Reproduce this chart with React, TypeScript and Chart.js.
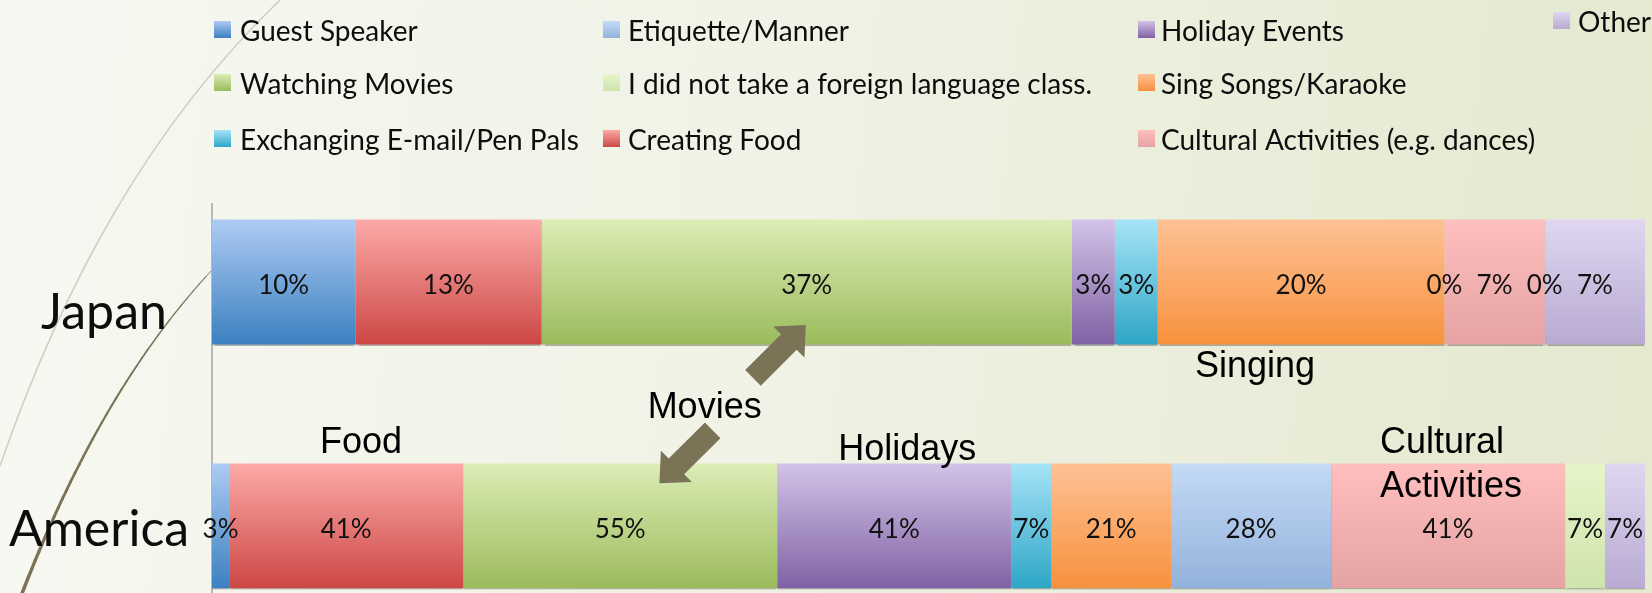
import React, { useEffect, useRef } from 'react';
import { Chart, registerables } from 'chart.js';

Chart.register(...registerables);

// ---------- data ----------
const categories = ['Japan', 'America'];

const seriesNames = [
  'Guest Speaker',
  'Creating Food',
  'Watching Movies',
  'Holiday Events',
  'Exchanging E-mail/Pen Pals',
  'Sing Songs/Karaoke',
  'Etiquette/Manner',
  'Cultural Activities (e.g. dances)',
  'I did not take a foreign language class.',
  'Other',
];

const japanValues = [10, 13, 37, 3, 3, 20, 0, 7, 0, 7];
const americaValues = [3, 41, 55, 41, 7, 21, 28, 41, 7, 7];

// legend reading order (column by column, as in the original)
const legendOrder = [
  'Guest Speaker',
  'Watching Movies',
  'Exchanging E-mail/Pen Pals',
  'Etiquette/Manner',
  'I did not take a foreign language class.',
  'Creating Food',
  'Holiday Events',
  'Sing Songs/Karaoke',
  'Cultural Activities (e.g. dances)',
  'Other',
];

// ---------- styles ----------
const seriesTopColors = [
  '#aecbf3', '#fcaaa8', '#dcedb6', '#d2c3e8', '#a6e4f7',
  '#fec195', '#c4daf6', '#ffbfbe', '#e5f5c9', '#e0d6f0',
];
const seriesBottomColors = [
  '#3b80c0', '#cc4744', '#9bbb5c', '#8062a4', '#2ea6c6',
  '#f7913d', '#93b2db', '#e5a3a3', '#cfe3ac', '#b8aad2',
];

const BAR_FRACTION = 0.512;
const LEGEND_FONT = '28px Lato, "Open Sans", sans-serif';
const LABEL_FONT = '26px Lato, "Open Sans", sans-serif';
const CATEGORY_FONT = '50px Lato, "Open Sans", sans-serif';
const NOTE_FONT = '36px "Liberation Sans", Arial, sans-serif';

// legend slots: [box x, text x, baseline y]
const legendSlots: [number, number, number][] = [
  [214, 240, 41], [214, 240, 94], [214, 240, 150],
  [603, 628, 41], [603, 628, 94], [603, 628, 150],
  [1138, 1161, 41], [1138, 1161, 94], [1138, 1161, 150],
  [1553, 1578, 32],
];

// category labels: [center x px, baseline offset from bar center]
const categoryLabelPos: [number, number][] = [
  [104, 47],
  [99, 20],
];

// text notes placed in value space (x: % of bar, y: category units)
const notes: { text: string; x: number; y: number }[] = [
  { text: 'Singing', x: 68.6, y: 0.389 },
  { text: 'Movies', x: 30.4, y: 0.557 },
  { text: 'Food', x: 7.54, y: 0.701 },
  { text: 'Holidays', x: 43.7, y: 0.73 },
  { text: 'Cultural', x: 81.5, y: 0.701 },
  { text: 'Activities', x: 81.5, y: 0.881 },
];

// arrows in value space: [tailX, tailY, tipX, tipY]
const arrows: [number, number, number, number][] = [
  [37.75, 0.393, 41.44, 0.176],
  [34.94, 0.608, 31.22, 0.825],
];

function barGradient(ctx: any, i: number) {
  const chart = ctx.chart;
  const ys = chart.scales && chart.scales.y;
  if (!chart.chartArea || !ys || ctx.type !== 'data' || !ctx.raw) {
    return seriesBottomColors[i];
  }
  const p0 = ys.getPixelForValue(0);
  const p1 = ys.getPixelForValue(1);
  const half = (Math.abs(p1 - p0) * BAR_FRACTION) / 2;
  const cy = ys.getPixelForValue(ctx.raw.y);
  const g = chart.ctx.createLinearGradient(0, cy - half, 0, cy + half);
  g.addColorStop(0, seriesTopColors[i]);
  g.addColorStop(1, seriesBottomColors[i]);
  return g;
}

function bez(p0: number[], p1: number[], p2: number[], p3: number[], t: number) {
  const u = 1 - t;
  return [
    u * u * u * p0[0] + 3 * u * u * t * p1[0] + 3 * u * t * t * p2[0] + t * t * t * p3[0],
    u * u * u * p0[1] + 3 * u * u * t * p1[1] + 3 * u * t * t * p2[1] + t * t * t * p3[1],
  ];
}

const decorPlugin = {
  id: 'decor',
  beforeDraw(chart: any) {
    const { ctx, width, height } = chart;
    ctx.save();
    const g = ctx.createLinearGradient(0, 0, width, height * 0.3);
    g.addColorStop(0, '#f7f8f2');
    g.addColorStop(0.5, '#eff2e4');
    g.addColorStop(1, '#e4e9d0');
    ctx.fillStyle = g;
    ctx.fillRect(0, 0, width, height);

    // light decorative arc
    ctx.strokeStyle = '#cfcfc2';
    ctx.lineWidth = 1.5;
    ctx.beginPath();
    ctx.moveTo(280, 0);
    ctx.bezierCurveTo(147, 128, 61, 290, 0, 466);
    ctx.stroke();

    // darker arc with growing width
    ctx.strokeStyle = '#7a7356';
    ctx.lineCap = 'round';
    const P0 = [212, 270], P1 = [127, 361], P2 = [67, 477], P3 = [21, 596];
    const N = 40;
    let prev = bez(P0, P1, P2, P3, 0);
    for (let k = 1; k <= N; k++) {
      const t = k / N;
      const cur = bez(P0, P1, P2, P3, t);
      ctx.lineWidth = 0.9 + 2.6 * t;
      ctx.beginPath();
      ctx.moveTo(prev[0], prev[1]);
      ctx.lineTo(cur[0], cur[1]);
      ctx.stroke();
      prev = cur;
    }
    ctx.restore();
  },
  beforeDatasetsDraw(chart: any) {
    const ctx = chart.ctx;
    ctx.save();
    ctx.shadowColor = 'rgba(0,0,0,0.28)';
    ctx.shadowBlur = 1.5;
    ctx.shadowOffsetX = 0;
    ctx.shadowOffsetY = 2;
  },
  afterDatasetsDraw(chart: any) {
    const ctx = chart.ctx;
    ctx.restore();
    const countryValues = [japanValues, americaValues];
    ctx.save();
    ctx.font = LABEL_FONT;
    ctx.fillStyle = '#111111';
    ctx.textAlign = 'center';
    ctx.textBaseline = 'alphabetic';
    chart.data.datasets.forEach((ds: any, i: number) => {
      const meta = chart.getDatasetMeta(i);
      meta.data.forEach((el: any, j: number) => {
        const p = el.getProps(['x', 'base', 'y'], true);
        const v = countryValues[j][i];
        ctx.fillText(v + '%', (p.x + p.base) / 2, p.y + 12);
      });
    });
    ctx.restore();
  },
  afterDraw(chart: any) {
    const ctx = chart.ctx;
    const xs = chart.scales.x;
    const ys = chart.scales.y;
    ctx.save();

    // legend
    ctx.font = LEGEND_FONT;
    ctx.textBaseline = 'alphabetic';
    ctx.textAlign = 'left';
    legendOrder.forEach((name, k) => {
      const i = seriesNames.indexOf(name);
      const [bx, tx, by] = legendSlots[k];
      const top = by - 20;
      const g = ctx.createLinearGradient(0, top, 0, top + 17);
      g.addColorStop(0, seriesTopColors[i]);
      g.addColorStop(1, seriesBottomColors[i]);
      ctx.fillStyle = g;
      ctx.fillRect(bx, top, 17, 17);
      ctx.fillStyle = '#0d0d0d';
      ctx.fillText(name, tx, by);
    });

    // category labels
    ctx.font = CATEGORY_FONT;
    ctx.textAlign = 'center';
    ctx.fillStyle = '#0d0d0d';
    categories.forEach((c, i) => {
      const [cx, off] = categoryLabelPos[i];
      ctx.fillText(c, cx, ys.getPixelForValue(i) + off);
    });

    // arrows
    ctx.fillStyle = '#7a7356';
    arrows.forEach(([tx0, ty0, tx1, ty1]) => {
      const ax = xs.getPixelForValue(tx0), ay = ys.getPixelForValue(ty0);
      const bx = xs.getPixelForValue(tx1), by = ys.getPixelForValue(ty1);
      const dx = bx - ax, dy = by - ay;
      const len = Math.hypot(dx, dy);
      const ux = dx / len, uy = dy / len;
      const px = -uy, py = ux;
      const shaft = 11, head = 22, headLen = 24;
      const hx = bx - ux * headLen, hy = by - uy * headLen;
      ctx.beginPath();
      ctx.moveTo(ax + px * shaft, ay + py * shaft);
      ctx.lineTo(hx + px * shaft, hy + py * shaft);
      ctx.lineTo(hx + px * head, hy + py * head);
      ctx.lineTo(bx, by);
      ctx.lineTo(hx - px * head, hy - py * head);
      ctx.lineTo(hx - px * shaft, hy - py * shaft);
      ctx.lineTo(ax - px * shaft, ay - py * shaft);
      ctx.closePath();
      ctx.fill();
    });

    // notes
    ctx.font = NOTE_FONT;
    ctx.textAlign = 'left';
    ctx.fillStyle = '#000000';
    notes.forEach((n) => {
      ctx.fillText(n.text, xs.getPixelForValue(n.x), ys.getPixelForValue(n.y));
    });
    ctx.restore();
  },
};

export default function App() {
  const ref = useRef<HTMLCanvasElement>(null);

  useEffect(() => {
    document.body.style.margin = '0';
    const canvas = ref.current;
    if (!canvas) return;
    const countryValues = [japanValues, americaValues];
    const totals = countryValues.map((vals) => vals.reduce((a, b) => a + b, 0));

    const datasets = seriesNames.map((name, i) => ({
      label: name,
      data: countryValues.map((vals, c) => ({ x: (vals[i] / totals[c]) * 100, y: c })),
      backgroundColor: (ctx: any) => barGradient(ctx, i),
      borderWidth: 0,
      barPercentage: BAR_FRACTION,
      categoryPercentage: 1,
    }));

    const chart = new Chart(canvas, {
      type: 'bar',
      data: { datasets },
      options: {
        indexAxis: 'y',
        responsive: false,
        animation: false,
        layout: { padding: { left: 212, top: 204, right: 7, bottom: 0 } },
        plugins: {
          legend: { display: false },
          tooltip: { enabled: false },
        },
        scales: {
          x: { type: 'linear', stacked: true, min: 0, max: 100, display: false, offset: false },
          y: {
            type: 'linear',
            stacked: true,
            reverse: true,
            offset: false,
            min: -0.32,
            max: 1.275,
            afterBuildTicks: (scale: any) => {
              scale.ticks = categories.map((_, i) => ({ value: i }));
            },
            grid: { display: false, drawTicks: false, offset: false },
            ticks: { display: false },
            border: { display: true, color: '#b8b8b4', width: 2 },
          },
        },
      } as any,
      plugins: [decorPlugin],
    });

    return () => chart.destroy();
  }, []);

  return <canvas ref={ref} width={1652} height={593} style={{ display: 'block' }} />;
}
